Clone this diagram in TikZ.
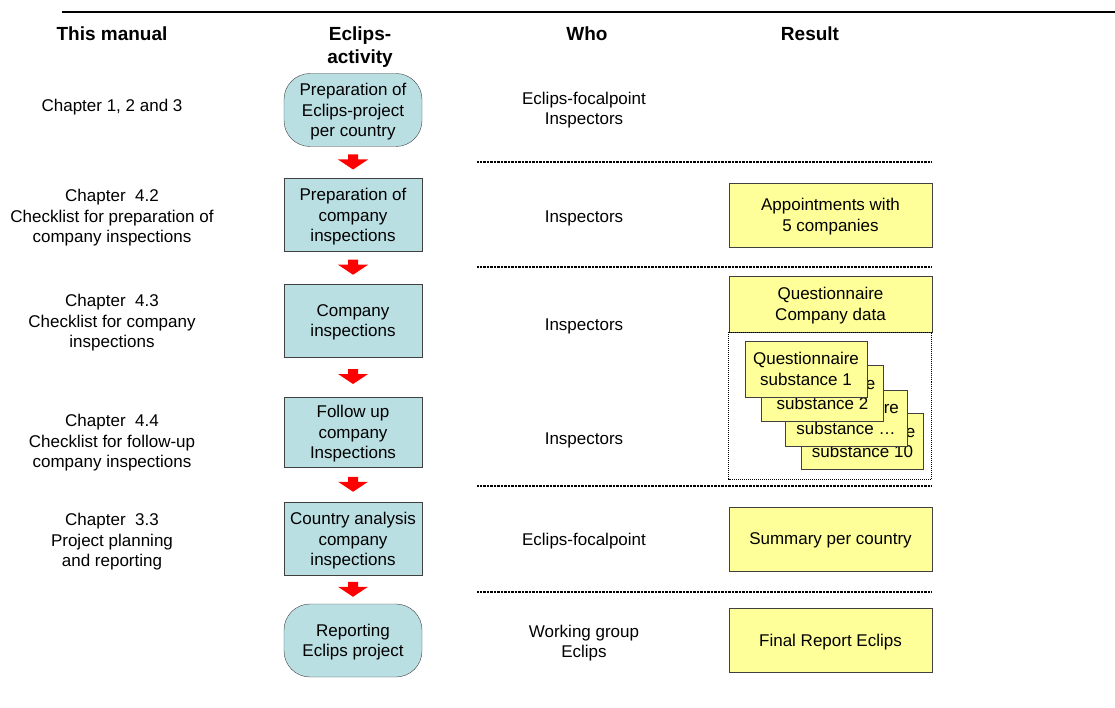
\documentclass[tikz,border=0pt]{standalone}
\usepackage{fontspec}
\setmainfont{Liberation Sans}
\usetikzlibrary{calc}
\definecolor{actcyan}{RGB}{186,223,227}
\definecolor{resyellow}{RGB}{255,255,153}
\tikzset{
  lowered/.style={text depth=-2.4pt},
  activity/.style={draw=black!75, fill=actcyan, minimum width=138pt, minimum height=73pt, inner sep=0pt, align=center, lowered},
  terminal/.style={activity, rounded corners=26pt},
  result/.style={draw=black!75, fill=resyellow, minimum width=203pt, minimum height=64pt, inner sep=0pt, align=center, lowered},
  card/.style={result, minimum width=122pt, minimum height=56pt},
  label/.style={align=center, yshift=-2pt},
  head/.style={label, font=\fontsize{19}{23.5}\selectfont\bfseries},
  separator/.style={line width=1.6pt, dash pattern=on 1pt off 0.4pt},
}
\begin{document}
\begin{tikzpicture}[x=1pt, y=-1pt, font=\fontsize{17}{20.5}\selectfont]
    \useasboundingbox (0,0) rectangle (1115,708);
    \draw[line width=2pt] (62,12) -- (1115,12);
    % column headings
    \node[head] (hmanual) at (112,32) {This manual};
    \node[head, anchor=north] (hactivity) at (360,21) {Eclips-\\activity};
    \node[head] (hwho) at (587,32) {Who};
    \node[head] (hresult) at (810,32) {Result};
    % activities
    \node[terminal] (prep) at (353,110) {Preparation of\\Eclips-project\\per country};
    \node[activity] (prepinsp) at (353,215) {Preparation of\\company\\inspections};
    \node[activity] (insp) at (353,320.5) {Company\\inspections};
    \node[activity, minimum height=70pt] (follow) at (353,432) {Follow up\\company\\Inspections};
    \node[activity] (analysis) at (353,539) {Country analysis\\company\\inspections};
    \node[terminal] (report) at (353,640.5) {Reporting\\Eclips project};
    \foreach \a/\b in {prep/prepinsp, prepinsp/insp, insp/follow, follow/analysis, analysis/report}
        \fill[red] ($(\a.south)!0.5!(\b.north)$) +(-5,-8) -- +(5,-8) -- +(5,-3)
            -- +(15,-3) -- +(0,7) -- +(-15,-3) -- +(-5,-3) -- cycle;
    % this manual
    \foreach \y/\t/\n in {105/{Chapter 1, 2 and 3}/ch1,
        216/{Chapter~~4.2\\Checklist for preparation of\\company inspections}/ch42,
        321/{Chapter~~4.3\\Checklist for company\\inspections}/ch43,
        441/{Chapter~~4.4\\Checklist for follow-up\\company inspections}/ch44,
        540/{Chapter~~3.3\\Project planning\\and reporting}/ch33}
        \node[label] (\n) at (112,\y) {\t};
    % who
    \foreach \y/\t/\n in {108/{Eclips-focalpoint\\Inspectors}/who1, 216/Inspectors/who2,
        324/Inspectors/who3, 438/Inspectors/who4, 539/Eclips-focalpoint/who5,
        641/{Working group\\Eclips}/who6}
        \node[label] (\n) at (584,\y) {\t};
    \foreach \y in {162,267,486,592}
        \draw[separator] (477,\y) -- (931,\y);
    % results
    \node[result] (appt) at (830.5,215) {Appointments with\\5 companies};
    \node[result, minimum height=56pt] (qcomp) at (830.5,304) {Questionnaire\\Company data};
    \draw[densely dotted, line width=1pt] (qcomp.south west) rectangle (931.5,479);
    \node[card] (sub10) at (862.5,441.5) {Questionnaire\\substance 10};
    \node[card] (subdots) at (846,418) {Questionnaire\\substance \dots};
    \node[card] (sub2) at (822.5,393.5) {Questionnaire\\substance 2};
    \node[card] (sub1) at (806,369) {Questionnaire\\substance 1};
    \node[result] (summary) at (830.5,539) {Summary per country};
    \node[result] (final) at (830.5,640) {Final Report Eclips};
\end{tikzpicture}
\end{document}
